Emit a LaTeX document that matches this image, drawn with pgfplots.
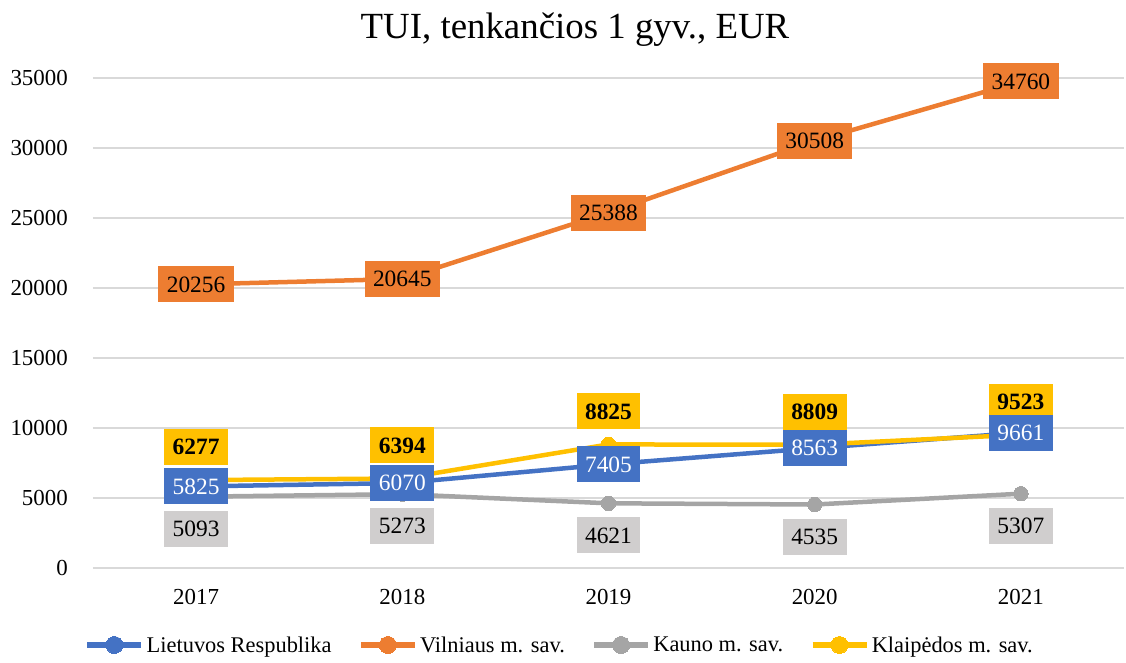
\documentclass[border=0pt]{standalone}
\usepackage{pgfplots}
\pgfplotsset{compat=1.18}
\usepackage{fontspec}
\setmainfont{Liberation Serif}
\definecolor{cblue}{HTML}{4472C4}
\definecolor{corange}{HTML}{ED7D31}
\definecolor{cgray}{HTML}{A5A5A5}
\definecolor{cyellow}{HTML}{FFC000}
\definecolor{clgray}{HTML}{D0CECE}
\definecolor{cgrid}{HTML}{D9D9D9}
\begin{document}
\begin{tikzpicture}
\path[use as bounding box] (-93bp,-95bp) rectangle (1033bp,568bp);
\node[anchor=base,font=\fontsize{37}{40}\selectfont] at (482bp,529bp) {TUI, tenkančios 1 gyv., EUR};
\begin{axis}[
  scale only axis,
  width=1031bp, height=490bp,
  xmin=-0.5, xmax=4.5, ymin=0, ymax=35000,
  xtick={0,1,2,3,4},
  xticklabels={2017,2018,2019,2020,2021},
  ytick={0,5000,...,35000},
  /pgf/number format/assume math mode=true,
  scaled y ticks=false,
  yticklabel={\pgfmathprintnumber[fixed,precision=0,1000 sep={}]{\tick}},
  ymajorgrids,
  grid style={cgrid, line width=1.3bp},
  axis line style={draw=none},
  major tick length=0pt,
  clip=false,
  tick label style={font=\fontsize{23}{26}\selectfont, text=black},
  yticklabel style={anchor=east, inner sep=0pt, xshift=-25bp},
  xticklabel style={anchor=north, inner sep=0pt, yshift=-21bp},
  legend style={at={(467/1031,-77/490)}, anchor=center, draw=none, fill=none,
    font=\fontsize{22.5}{26}\selectfont, legend columns=4,
    /tikz/every even column/.append style={column sep=24bp},
    nodes={inner xsep=2.5bp}},
  legend cell align=left,
  legend image code/.code={
    \draw[line width=5.5bp, mark size=8.5bp, mark repeat=2,mark phase=2] plot coordinates {(0bp,0bp) (27bp,0bp) (54bp,0bp)};
  },
  every axis plot/.append style={line width=4.5bp},
  point meta=explicit symbolic,
  lbl/.style={nodes near coords, draw=none, mark=none, forget plot,
    nodes near coords style={anchor=center, font=\fontsize{23.5}{26}\selectfont,
      inner xsep=8.5bp, inner ysep=0pt, minimum height=36bp, text height=15.5bp, text depth=0pt}},
]
% lines
\addplot[color=cblue, mark=*, mark size=7.2bp, mark options={fill=cblue, line width=0pt}]
  coordinates {(0,5825) (1,6070) (2,7405) (3,8563) (4,9661)};
\addlegendentry{Lietuvos Respublika}
\addplot[color=corange, mark=*, mark size=7.2bp, mark options={fill=corange, line width=0pt}]
  coordinates {(0,20256) (1,20645) (2,25388) (3,30508) (4,34760)};
\addlegendentry{Vilniaus m. sav.}
\addplot[color=cgray, mark=*, mark size=7.2bp, mark options={fill=cgray, line width=0pt}]
  coordinates {(0,5093) (1,5273) (2,4621) (3,4535) (4,5307)};
\addlegendentry{Kauno m. sav.}
\addplot[color=cyellow, mark=*, mark size=7.2bp, mark options={fill=cyellow, line width=0pt}]
  coordinates {(0,6277) (1,6394) (2,8825) (3,8809) (4,9523)};
\addlegendentry{Klaipėdos m. sav.}
% labels
\addplot[lbl, every node near coord/.append style={fill=clgray, yshift=-32bp, text=black}]
  coordinates {(0,5093)[5093] (1,5273)[5273] (2,4621)[4621] (3,4535)[4535] (4,5307)[5307]};
\addplot[lbl, every node near coord/.append style={fill=cyellow, yshift=33bp, text=black, font=\fontsize{23.5}{26}\selectfont\bfseries}]
  coordinates {(0,6277)[6277] (1,6394)[6394] (2,8825)[8825] (3,8809)[8809] (4,9523)[9523]};
\addplot[lbl, every node near coord/.append style={fill=cblue, text=white}]
  coordinates {(0,5825)[5825] (1,6070)[6070] (2,7405)[7405] (3,8563)[8563] (4,9661)[9661]};
\addplot[lbl, every node near coord/.append style={fill=corange, text=black}]
  coordinates {(0,20256)[20256] (1,20645)[20645] (2,25388)[25388] (3,30508)[30508] (4,34760)[34760]};
\end{axis}
\end{tikzpicture}
\end{document}
